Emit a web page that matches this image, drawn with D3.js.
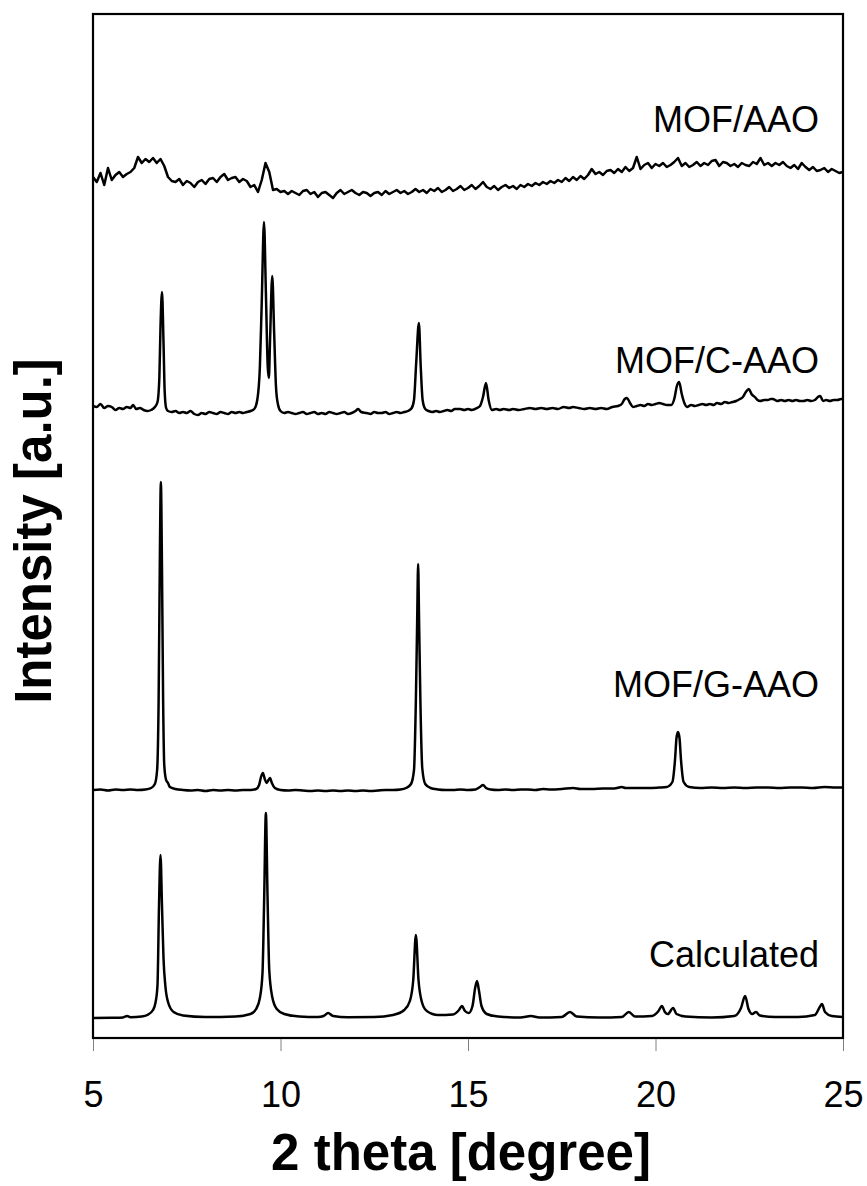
<!DOCTYPE html>
<html>
<head>
<meta charset="utf-8">
<script src="https://cdn.jsdelivr.net/npm/d3@7"></script>
<style>
  html, body { margin: 0; padding: 0; background: #fff; }
  svg { display: block; }
</style>
</head>
<body>
<script>
// ---------------- data ----------------
const xTicks = [5, 10, 15, 20, 25];
const seriesNames = ["Calculated", "MOF/G-AAO", "MOF/C-AAO", "MOF/AAO"];
// vertical offsets of each stacked pattern (a.u.)
const offsets = [20, 248, 626, 858];

// Calculated pattern: [2theta, intensity]
const calculated = [
  [5.0,0],[5.5,0.3],[5.8,0.6],[5.91,2],[6.0,0.8],[6.3,1.5],[6.45,3],[6.6,8],[6.67,16],[6.72,33],[6.76,112],[6.80,163],[6.84,112],[6.88,60],[6.93,32],[7.0,16],[7.15,6],[7.4,2.5],[8.0,1],
  [8.8,1.5],[9.2,4],[9.35,9],[9.45,20],[9.52,45],[9.565,120],[9.61,205],[9.655,120],[9.70,48],[9.78,21],[9.9,9],[10.1,4],[10.5,1.5],
  [11.0,1],[11.15,2],[11.27,5],[11.4,2],[11.8,0.8],[12.5,1],[13.0,3],[13.3,8],[13.45,17],[13.54,38],[13.61,83],[13.68,38],[13.77,16],[13.9,7],[14.2,3],
  [14.6,3.5],[14.76,8],[14.84,12],[14.92,7],[15.02,5],[15.12,12],[15.19,30],[15.24,37],[15.29,28],[15.36,12],[15.5,4],[15.8,1.5],[16.4,0.5],[16.68,2],[16.9,0.5],
  [17.5,1],[17.72,6],[17.9,1.5],[18.5,0.5],[19.1,1],[19.29,6],[19.45,1.5],[19.9,2],[20.08,7],[20.17,12],[20.25,6],[20.33,4],[20.47,10],[20.56,4],[20.8,1.5],
  [21.5,0.5],[22.1,2],[22.28,10],[22.39,22],[22.48,9],[22.58,4],[22.68,6],[22.78,2.5],[23.2,1],[23.8,1],[24.25,3],[24.38,11],[24.44,14],[24.52,6],[24.7,2],[25.0,1]
];

// MOF/G-AAO pattern
const gAAO = [
  [5.0,0],[5.2,0.5],[5.4,-0.5],[5.6,0.5],[5.8,0],[6.0,0.5],[6.2,0],[6.4,0.5],[6.55,2],[6.65,6],[6.71,20],[6.75,90],[6.78,220],[6.81,308],[6.84,220],[6.87,90],[6.9,25],[6.95,10],[7.0,7],[7.05,3],[7.2,1],
  [7.4,0],[7.6,-0.5],[7.8,0],[8.0,-1],[8.2,0],[8.4,-0.5],[8.6,0],[8.8,-0.5],[9.0,0],[9.2,0],[9.35,1],[9.43,5],[9.48,13],[9.53,17],[9.58,11],[9.63,7],[9.68,10],[9.72,12],[9.77,7],[9.85,2],[10.0,0],
  [10.2,-0.5],[10.4,0],[10.6,-0.5],[10.8,-1],[11.0,-0.5],[11.2,-1],[11.4,-0.5],[11.6,-1],[11.8,-0.5],[12.0,-1],[12.2,-0.5],[12.4,-1],[12.6,-0.5],[12.8,0],[13.0,0],[13.2,0.5],[13.35,2],[13.48,6],[13.56,20],[13.61,90],[13.645,170],[13.67,226],[13.695,170],[13.73,90],[13.78,22],[13.86,6],[14.0,2],
  [14.2,0.5],[14.4,0],[14.6,0],[14.8,0.5],[15.0,0],[15.2,0.5],[15.32,3],[15.4,5],[15.48,2],[15.6,0.5],[15.8,0],[16.0,0.5],[16.2,0],[16.4,0.5],[16.6,0.5],[16.8,0],[17.0,1],[17.2,0.5],[17.5,1],[17.8,2],[18.0,1],
  [18.3,1],[18.6,1.5],[18.9,1.5],[19.1,3],[19.2,2],[19.5,2],[19.8,2],[20.1,2.5],[20.3,3],[20.45,8],[20.52,30],[20.56,52],[20.6,58],[20.64,52],[20.68,30],[20.75,8],[20.9,3],
  [21.2,2],[21.5,2.5],[21.8,2],[22.1,2.5],[22.4,2],[22.7,2.5],[23.0,2.5],[23.3,2],[23.6,2.5],[23.9,2.5],[24.2,2],[24.5,3],[24.8,2.5],[25.0,2.5]
];

// MOF/C-AAO pattern
const cAAO = [
  [5.0,6],[5.1,5],[5.2,8],[5.3,4],[5.4,6],[5.5,5],[5.6,2],[5.7,4],[5.8,3],[5.9,5],[6.0,4],[6.07,7],[6.15,3],[6.25,4],[6.35,2],[6.45,1],[6.55,2],[6.65,5],[6.72,10],[6.77,35],[6.8,85],[6.84,120],[6.88,70],[6.91,22],[6.95,4],
  [7.0,1],[7.1,0],[7.2,1],[7.3,-1],[7.4,0],[7.5,-1],[7.6,1],[7.7,-2],[7.8,-3],[7.9,-1],[8.0,-2],[8.1,0],[8.2,-1],[8.3,-2],[8.4,0],[8.5,-1],[8.6,-2],[8.7,0],[8.8,-1],[8.9,0],[9.0,-1],[9.1,0],[9.2,1],[9.3,3],
  [9.38,12],[9.45,45],[9.5,110],[9.56,190],[9.61,120],[9.66,45],[9.69,34],[9.72,70],[9.78,136],[9.83,80],[9.88,25],[9.93,8],[10.0,1],
  [10.1,-1],[10.2,0],[10.3,-1],[10.4,-2],[10.5,-1],[10.6,0],[10.7,-2],[10.8,-1],[10.9,0],[11.0,-2],[11.1,-1],[11.2,-2],[11.3,0],[11.4,-1],[11.5,-2],[11.6,-1],[11.7,0],[11.8,-2],[11.9,-1],[12.0,1],[12.07,3],[12.15,0],
  [12.3,-1],[12.4,-2],[12.5,0],[12.6,-1],[12.7,-1],[12.8,0],[12.9,-2],[13.0,-1],[13.1,0],[13.2,-1],[13.3,0],[13.4,1],[13.5,4],[13.56,12],[13.62,50],[13.69,89],[13.74,45],[13.79,12],[13.86,3],[13.95,1],
  [14.05,0],[14.15,1],[14.25,0],[14.35,1],[14.45,2],[14.55,1],[14.65,3],[14.79,3],[14.9,2],[15.0,3],[15.1,2],[15.24,4],[15.32,6],[15.4,15],[15.48,29],[15.55,12],[15.64,2],
  [15.75,3],[15.85,2],[15.95,3],[16.1,2],[16.2,3],[16.35,2],[16.5,3],[16.65,4],[16.8,3],[16.95,4],[17.1,3],[17.25,4],[17.4,3],[17.55,5],[17.7,4],[17.8,5],[17.95,4],[18.1,3],[18.25,4],[18.4,3],[18.55,4],[18.7,3],[18.85,5],
  [19.0,6],[19.1,8],[19.18,13],[19.24,14],[19.32,9],[19.4,5],[19.5,6],[19.6,7],[19.7,6],[19.8,8],[19.9,7],[20.0,8],[20.1,9],[20.2,8],[20.3,7],[20.42,7],[20.5,13],[20.57,26],[20.63,30],[20.7,18],[20.78,8],[20.84,5],
  [20.95,7],[21.05,6],[21.15,7],[21.25,8],[21.35,7],[21.45,8],[21.55,7],[21.64,9],[21.75,8],[21.85,10],[21.95,9],[22.05,10],[22.15,11],[22.25,13],[22.33,15],[22.41,20],[22.49,23],[22.56,18],[22.65,15],[22.72,12],[22.79,11],
  [22.9,12],[23.0,12],[23.07,13],[23.13,13],[23.25,11],[23.35,12],[23.45,11],[23.55,12],[23.65,11],[23.75,12],[23.85,11],[23.95,11],[24.05,12],[24.15,11],[24.25,12],[24.33,15],[24.39,16],[24.47,11],[24.55,12],[24.65,11],[24.75,12],[24.85,12],[24.95,13],[25.0,13]
];

// MOF/AAO pattern, sampled every 0.1 degree from 5.0 to 25.0
const aaoStart = 5.0, aaoStep = 0.1;
const aaoIntensity = [
  3,-2,7,-5,12,0,5,8,3,6,           // 5.0 - 5.9
  8,12,23,17,21,18,22,17,21,14,     // 6.0 - 6.9
  3,-1,-2,1,-5,-1,-3,-7,-2,0,       // 7.0 - 7.9
  -4,1,2,-2,3,6,0,2,3,-2,           // 8.0 - 8.9
  1,-1,-7,-5,-12,0,17,8,-10,-9,     // 9.0 - 9.9
  -12,-11,-14,-11,-13,-15,-11,-10,-14,-12, // 10
  -17,-13,-12,-15,-18,-13,-10,-14,-12,-10, // 11
  -13,-15,-12,-13,-16,-13,-12,-15,-11,-14, // 12
  -12,-10,-13,-11,-14,-12,-9,-12,-10,-13,  // 13
  -9,-11,-8,-12,-10,-7,-11,-9,-6,-10,      // 14
  -8,-5,-9,-6,-2,-7,-9,-6,-10,-7,          // 15
  -5,-8,-6,-9,-5,-7,-4,-6,-3,-5,           // 16
  -2,-4,-1,-3,0,-2,2,-1,3,0,               // 17
  4,1,5,11,6,8,5,9,10,7,                   // 18
  11,8,13,9,12,23,11,15,17,12,             // 19
  16,14,17,13,15,18,22,14,17,13,           // 20
  15,18,14,17,15,19,20,14,18,17,           // 21
  14,16,13,17,15,14,18,16,22,15,           // 22
  17,14,17,15,18,14,12,15,11,17,           // 23
  13,10,13,9,10,12,8,11,9,7,               // 24
  8                                        // 25.0
];

// ---------------- layout ----------------
const W = 867, H = 1186;
const plot = { left: 93, right: 843, top: 14, bottom: 1038 };

const svg = d3.select("body").append("svg")
  .attr("width", W).attr("height", H)
  .attr("viewBox", `0 0 ${W} ${H}`)
  .style("font-family", "Arial, 'Liberation Sans', Helvetica, sans-serif");

svg.append("rect").attr("width", W).attr("height", H).attr("fill", "#fff");

const x = d3.scaleLinear().domain([5, 25]).range([plot.left, plot.right]);
const y = d3.scaleLinear().domain([0, 1024]).range([plot.bottom, plot.top]);

const aao = aaoIntensity.map((v, i) => [aaoStart + i * aaoStep, v]);
const seriesData = [calculated, gAAO, cAAO, aao];
const curves = [d3.curveMonotoneX, d3.curveMonotoneX, d3.curveMonotoneX, d3.curveLinear];
const labelBaselines = [967, 697, 373, 132];

// traces
seriesData.forEach((data, i) => {
  const line = d3.line()
    .x(d => x(d[0]))
    .y(d => y(d[1] + offsets[i]))
    .curve(curves[i]);
  svg.append("path")
    .datum(data)
    .attr("d", line)
    .attr("fill", "none")
    .attr("stroke", "#000")
    .attr("stroke-width", 2.5)
    .attr("stroke-linejoin", "round");
});

// series labels
seriesNames.forEach((name, i) => {
  svg.append("text")
    .attr("x", 819)
    .attr("y", labelBaselines[i])
    .attr("text-anchor", "end")
    .attr("font-size", 36)
    .attr("fill", "#000")
    .text(name);
});

// frame
svg.append("rect")
  .attr("x", plot.left).attr("y", plot.top)
  .attr("width", plot.right - plot.left)
  .attr("height", plot.bottom - plot.top)
  .attr("fill", "none")
  .attr("stroke", "#000")
  .attr("stroke-width", 2.2);

// x axis
const xAxis = d3.axisBottom(x).tickValues(xTicks).tickSize(12).tickPadding(32).tickFormat(d3.format("d"));
const gx = svg.append("g").attr("transform", `translate(0,${plot.bottom + 1})`).call(xAxis);
gx.select(".domain").remove();
gx.selectAll(".tick line").attr("stroke", "#808080").attr("stroke-width", 1);
gx.selectAll(".tick text")
  .attr("font-size", 36)
  .attr("font-family", "Arial, 'Liberation Sans', sans-serif")
  .attr("fill", "#000")
  .attr("dy", null)
  .attr("y", 68);

// axis titles
svg.append("text")
  .attr("x", 461).attr("y", 1170)
  .attr("text-anchor", "middle")
  .attr("font-size", 51)
  .attr("font-weight", "bold")
  .text("2 theta [degree]");

svg.append("text")
  .attr("transform", "translate(51,531) rotate(-90)")
  .attr("text-anchor", "middle")
  .attr("font-size", 51)
  .attr("font-weight", "bold")
  .text("Intensity [a.u.]");
</script>
</body>
</html>
